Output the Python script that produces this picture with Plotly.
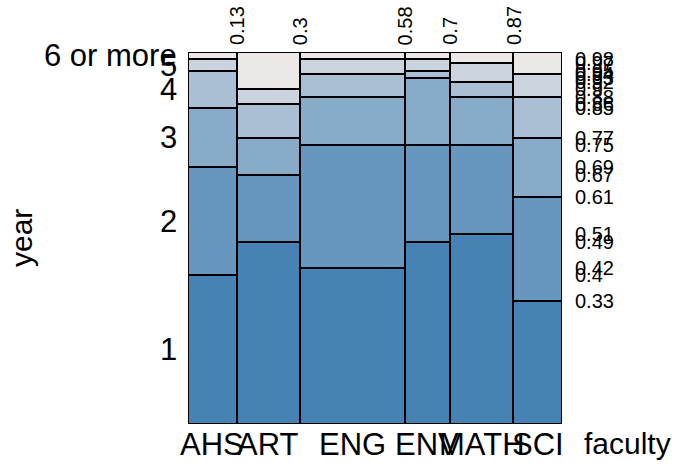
import plotly.graph_objects as go

# Faculty categories and their share of all students (column widths)
faculties = ["AHS", "ART", "ENG", "ENV", "MATH", "SCI"]
faculty_share = [0.13, 0.17, 0.28, 0.12, 0.17, 0.13]

# Year-of-study levels
years = ["1", "2", "3", "4", "5", "6 or more"]

# Share of each year within each faculty (rows follow `years`, columns follow `faculties`)
year_share = [
    [0.40, 0.49, 0.42, 0.49, 0.51, 0.33],  # year 1
    [0.29, 0.18, 0.33, 0.26, 0.24, 0.28],  # year 2
    [0.16, 0.10, 0.13, 0.18, 0.13, 0.16],  # year 3
    [0.10, 0.09, 0.06, 0.02, 0.04, 0.11],  # year 4
    [0.03, 0.04, 0.04, 0.03, 0.05, 0.06],  # year 5
    [0.02, 0.10, 0.02, 0.02, 0.03, 0.06],  # year 6 or more
]

year_colors = ["#4682B4", "#6796BE", "#88ABC9", "#AABFD3", "#CBD4DE", "#ECE8E8"]

FONT = "Liberation Sans, Arial, sans-serif"
BIG = 31
SMALL = 20

# Column geometry from faculty shares
x_left = []
acc = 0.0
for w in faculty_share:
    x_left.append(acc)
    acc += w
x_mid = [l + w / 2 for l, w in zip(x_left, faculty_share)]

# Stacked bottoms per faculty
bottoms = [[0.0] * len(faculties)]
for row in year_share[:-1]:
    bottoms.append([b + v for b, v in zip(bottoms[-1], row)])

fig = go.Figure()
for i, yr in enumerate(years):
    fig.add_trace(go.Bar(
        x=x_mid,
        y=year_share[i],
        base=bottoms[i],
        width=faculty_share,
        name=yr,
        marker=dict(color=year_colors[i], line=dict(color="black", width=2)),
        showlegend=False,
        hoverinfo="skip",
    ))

annotations = []

# Faculty names under each column
for name, xm in zip(faculties, x_mid):
    annotations.append(dict(x=xm, y=0, xref="x", yref="paper", text=name,
                            showarrow=False, xanchor="center", yanchor="top", yshift=-1,
                            font=dict(family=FONT, size=BIG, color="black")))

# Year labels at the middle of the first column's tiles
for i, yr in enumerate(years):
    mid = bottoms[i][0] + year_share[i][0] / 2
    annotations.append(dict(x=0, y=mid, xref="x", yref="y", text=yr,
                            showarrow=False, xanchor="right", yanchor="middle", xshift=-9,
                            font=dict(family=FONT, size=BIG, color="black")))

# Cumulative faculty shares along the top
for xb in x_left[1:]:
    annotations.append(dict(x=xb, y=1, xref="x", yref="paper", text=f"{round(xb, 2):g}",
                            showarrow=False, textangle=-90, xanchor="center", yanchor="bottom",
                            yshift=5, font=dict(family=FONT, size=SMALL, color="black")))

# Cumulative year shares on the right
tops = sorted({round(b + v, 2) for row_b, row_v in zip(bottoms, year_share)
               for b, v in zip(row_b, row_v)} - {1.0})
for t in tops:
    annotations.append(dict(x=1, y=t, xref="paper", yref="y", text=f"{t:g}",
                            showarrow=False, xanchor="left", yanchor="middle", xshift=11,
                            font=dict(family=FONT, size=SMALL, color="black")))

# Axis titles
annotations.append(dict(x=1, y=0, xref="paper", yref="paper", text="faculty",
                        showarrow=False, xanchor="left", yanchor="top", xshift=20, yshift=-1,
                        font=dict(family=FONT, size=BIG - 1, color="black")))
annotations.append(dict(x=0, y=0.5, xref="paper", yref="paper", text="year",
                        showarrow=False, textangle=-90, xanchor="center", yanchor="middle",
                        xshift=-167, font=dict(family=FONT, size=BIG - 1, color="black")))

fig.update_layout(
    width=676, height=470,
    margin=dict(l=188, r=114, t=52, b=46),
    paper_bgcolor="white", plot_bgcolor="white",
    barmode="overlay", bargap=0,
    xaxis=dict(range=[0, 1], showticklabels=False, showgrid=False, zeroline=False,
               ticks="", fixedrange=True),
    yaxis=dict(range=[0, 1], showticklabels=False, showgrid=False, zeroline=False,
               ticks="", fixedrange=True),
    annotations=annotations,
)

fig.write_html("out.html")
